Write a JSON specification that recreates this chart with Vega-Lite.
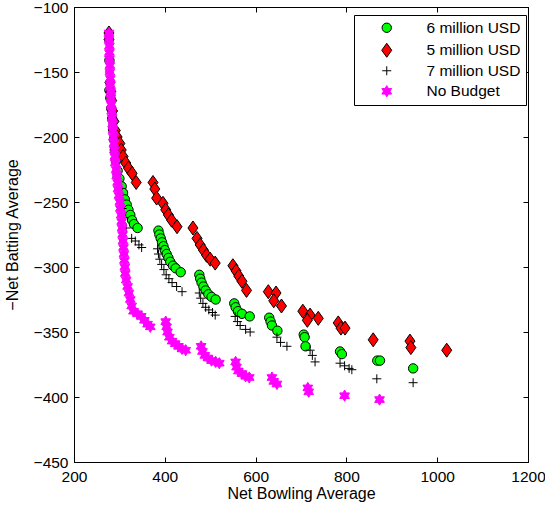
{
  "$schema": "https://vega.github.io/schema/vega-lite/v6.json",
  "width": 454,
  "height": 455,
  "autosize": {"type": "none"},
  "padding": {"left": 74, "top": 7, "right": 17, "bottom": 44},
  "background": "white",
  "config": {
    "view": {"stroke": "black", "strokeWidth": 1},
    "font": "Liberation Sans",
    "axis": {"grid": false, "domainColor": "black", "tickColor": "black", "labelColor": "black", "titleColor": "black", "labelFont": "Liberation Sans", "titleFont": "Liberation Sans", "labelFontSize": 15.5, "titleFontSize": 16, "titleFontWeight": "normal", "tickSize": -5, "labelFlush": false, "labelOverlap": false}
  },
  "data": {"values": [
    {"s":"6 million USD","x":278,"y":-141},{"s":"6 million USD","x":278,"y":-164},{"s":"6 million USD","x":280,"y":-170},{"s":"6 million USD","x":282,"y":-178},{"s":"6 million USD","x":284,"y":-186},{"s":"6 million USD","x":286,"y":-194},{"s":"6 million USD","x":288,"y":-202},{"s":"6 million USD","x":290,"y":-210},{"s":"6 million USD","x":293,"y":-218},{"s":"6 million USD","x":296,"y":-226},{"s":"6 million USD","x":300,"y":-232},{"s":"6 million USD","x":305,"y":-238},{"s":"6 million USD","x":308,"y":-243},{"s":"6 million USD","x":312,"y":-248},{"s":"6 million USD","x":316,"y":-252},{"s":"6 million USD","x":320,"y":-256},{"s":"6 million USD","x":324,"y":-260},{"s":"6 million USD","x":328,"y":-264},{"s":"6 million USD","x":332,"y":-267},{"s":"6 million USD","x":340,"y":-270},
    {"s":"6 million USD","x":386,"y":-272},{"s":"6 million USD","x":388,"y":-275},{"s":"6 million USD","x":391,"y":-278},{"s":"6 million USD","x":394,"y":-281},{"s":"6 million USD","x":397,"y":-284},{"s":"6 million USD","x":400,"y":-287},{"s":"6 million USD","x":404,"y":-290},{"s":"6 million USD","x":408,"y":-293},{"s":"6 million USD","x":412,"y":-296},{"s":"6 million USD","x":418,"y":-299},{"s":"6 million USD","x":424,"y":-301},{"s":"6 million USD","x":435,"y":-304},
    {"s":"6 million USD","x":476,"y":-306},{"s":"6 million USD","x":478,"y":-309},{"s":"6 million USD","x":481,"y":-312},{"s":"6 million USD","x":485,"y":-315},{"s":"6 million USD","x":490,"y":-318},{"s":"6 million USD","x":496,"y":-321},{"s":"6 million USD","x":503,"y":-323},{"s":"6 million USD","x":512,"y":-325},
    {"s":"6 million USD","x":553,"y":-328},{"s":"6 million USD","x":556,"y":-331},{"s":"6 million USD","x":561,"y":-334},{"s":"6 million USD","x":570,"y":-336},{"s":"6 million USD","x":587,"y":-338},
    {"s":"6 million USD","x":630,"y":-339},{"s":"6 million USD","x":633,"y":-342},{"s":"6 million USD","x":636,"y":-345},{"s":"6 million USD","x":648,"y":-349},
    {"s":"6 million USD","x":706,"y":-352},{"s":"6 million USD","x":708,"y":-354},{"s":"6 million USD","x":710,"y":-361},
    {"s":"6 million USD","x":786,"y":-365},{"s":"6 million USD","x":790,"y":-367},
    {"s":"6 million USD","x":868,"y":-372},{"s":"6 million USD","x":874,"y":-372},
    {"s":"6 million USD","x":947,"y":-378},
    {"s":"5 million USD","x":277,"y":-120},{"s":"5 million USD","x":277,"y":-125},{"s":"5 million USD","x":279,"y":-158},{"s":"5 million USD","x":281,"y":-165},{"s":"5 million USD","x":283,"y":-172},{"s":"5 million USD","x":285,"y":-180},{"s":"5 million USD","x":288,"y":-188},{"s":"5 million USD","x":291,"y":-195},{"s":"5 million USD","x":295,"y":-200},{"s":"5 million USD","x":301,"y":-205},{"s":"5 million USD","x":304,"y":-210},{"s":"5 million USD","x":308,"y":-215},{"s":"5 million USD","x":314,"y":-220},{"s":"5 million USD","x":320,"y":-224},{"s":"5 million USD","x":328,"y":-228},{"s":"5 million USD","x":337,"y":-235},
    {"s":"5 million USD","x":374,"y":-235},{"s":"5 million USD","x":378,"y":-240},{"s":"5 million USD","x":382,"y":-247},{"s":"5 million USD","x":396,"y":-251},{"s":"5 million USD","x":402,"y":-256},{"s":"5 million USD","x":408,"y":-260},{"s":"5 million USD","x":415,"y":-264},{"s":"5 million USD","x":427,"y":-269},
    {"s":"5 million USD","x":462,"y":-270},{"s":"5 million USD","x":471,"y":-278},{"s":"5 million USD","x":478,"y":-283},{"s":"5 million USD","x":485,"y":-287},{"s":"5 million USD","x":492,"y":-291},{"s":"5 million USD","x":500,"y":-294},{"s":"5 million USD","x":511,"y":-297},
    {"s":"5 million USD","x":550,"y":-299},{"s":"5 million USD","x":557,"y":-303},{"s":"5 million USD","x":563,"y":-307},{"s":"5 million USD","x":570,"y":-311},{"s":"5 million USD","x":580,"y":-318},
    {"s":"5 million USD","x":628,"y":-319},{"s":"5 million USD","x":645,"y":-320},{"s":"5 million USD","x":640,"y":-326},{"s":"5 million USD","x":657,"y":-330},
    {"s":"5 million USD","x":704,"y":-334},{"s":"5 million USD","x":720,"y":-337},{"s":"5 million USD","x":714,"y":-341},{"s":"5 million USD","x":738,"y":-339.5},
    {"s":"5 million USD","x":782,"y":-343},{"s":"5 million USD","x":788,"y":-347},{"s":"5 million USD","x":797,"y":-347},
    {"s":"5 million USD","x":859,"y":-356},{"s":"5 million USD","x":940,"y":-357},{"s":"5 million USD","x":942,"y":-362},{"s":"5 million USD","x":1021,"y":-364},
    {"s":"7 million USD","x":278,"y":-150},{"s":"7 million USD","x":279,"y":-160},{"s":"7 million USD","x":281,"y":-170},{"s":"7 million USD","x":283,"y":-180},{"s":"7 million USD","x":285,"y":-190},{"s":"7 million USD","x":287,"y":-200},{"s":"7 million USD","x":289,"y":-210},{"s":"7 million USD","x":291,"y":-220},{"s":"7 million USD","x":294,"y":-230},{"s":"7 million USD","x":298,"y":-240},{"s":"7 million USD","x":302,"y":-248},{"s":"7 million USD","x":306,"y":-255},{"s":"7 million USD","x":310,"y":-262},{"s":"7 million USD","x":315,"y":-270},{"s":"7 million USD","x":327,"y":-278},{"s":"7 million USD","x":335,"y":-280},{"s":"7 million USD","x":343,"y":-283},{"s":"7 million USD","x":349,"y":-285},
    {"s":"7 million USD","x":384,"y":-286},{"s":"7 million USD","x":386,"y":-290},{"s":"7 million USD","x":389,"y":-294},{"s":"7 million USD","x":393,"y":-298},{"s":"7 million USD","x":398,"y":-302},{"s":"7 million USD","x":403,"y":-306},{"s":"7 million USD","x":409,"y":-309},{"s":"7 million USD","x":416,"y":-312},{"s":"7 million USD","x":426,"y":-315},{"s":"7 million USD","x":438,"y":-319},
    {"s":"7 million USD","x":476,"y":-320},{"s":"7 million USD","x":479,"y":-324},{"s":"7 million USD","x":484,"y":-328},{"s":"7 million USD","x":490,"y":-331},{"s":"7 million USD","x":497,"y":-333},{"s":"7 million USD","x":505,"y":-335},{"s":"7 million USD","x":511,"y":-337},
    {"s":"7 million USD","x":555,"y":-338},{"s":"7 million USD","x":560,"y":-342},{"s":"7 million USD","x":566,"y":-345},{"s":"7 million USD","x":578,"y":-348},{"s":"7 million USD","x":588,"y":-350},
    {"s":"7 million USD","x":647,"y":-354},{"s":"7 million USD","x":655,"y":-358},{"s":"7 million USD","x":669,"y":-361},
    {"s":"7 million USD","x":720,"y":-364},{"s":"7 million USD","x":725,"y":-368},{"s":"7 million USD","x":731,"y":-373},
    {"s":"7 million USD","x":786,"y":-374},{"s":"7 million USD","x":796,"y":-376},{"s":"7 million USD","x":806,"y":-378},{"s":"7 million USD","x":812,"y":-379},
    {"s":"7 million USD","x":867,"y":-386},{"s":"7 million USD","x":947,"y":-389},
    {"s":"No Budget","x":277,"y":-120},{"s":"No Budget","x":277,"y":-125},{"s":"No Budget","x":278,"y":-130},{"s":"No Budget","x":278,"y":-135},{"s":"No Budget","x":278,"y":-140},{"s":"No Budget","x":279,"y":-145},{"s":"No Budget","x":279,"y":-150},{"s":"No Budget","x":280,"y":-155},{"s":"No Budget","x":280,"y":-160},{"s":"No Budget","x":281,"y":-165},{"s":"No Budget","x":281,"y":-170},{"s":"No Budget","x":282,"y":-175},{"s":"No Budget","x":283,"y":-180},{"s":"No Budget","x":284,"y":-185},{"s":"No Budget","x":285,"y":-190},{"s":"No Budget","x":286,"y":-195},{"s":"No Budget","x":287,"y":-200},{"s":"No Budget","x":288,"y":-205},{"s":"No Budget","x":289,"y":-210},{"s":"No Budget","x":290,"y":-215},{"s":"No Budget","x":291,"y":-220},{"s":"No Budget","x":293,"y":-225},{"s":"No Budget","x":294,"y":-230},{"s":"No Budget","x":296,"y":-235},{"s":"No Budget","x":297,"y":-240},{"s":"No Budget","x":299,"y":-245},{"s":"No Budget","x":301,"y":-250},{"s":"No Budget","x":302,"y":-255},{"s":"No Budget","x":304,"y":-260},{"s":"No Budget","x":305,"y":-265},{"s":"No Budget","x":306,"y":-270},{"s":"No Budget","x":307,"y":-275},{"s":"No Budget","x":308,"y":-280},{"s":"No Budget","x":309,"y":-285},{"s":"No Budget","x":310,"y":-290},{"s":"No Budget","x":311,"y":-295},{"s":"No Budget","x":312,"y":-300},{"s":"No Budget","x":313,"y":-305},{"s":"No Budget","x":315,"y":-310},{"s":"No Budget","x":318,"y":-315},{"s":"No Budget","x":321,"y":-320},{"s":"No Budget","x":324,"y":-325},{"s":"No Budget","x":327,"y":-330},{"s":"No Budget","x":331,"y":-334},{"s":"No Budget","x":340,"y":-336},{"s":"No Budget","x":348,"y":-338},{"s":"No Budget","x":355,"y":-341},{"s":"No Budget","x":362,"y":-344},{"s":"No Budget","x":368,"y":-346},
    {"s":"No Budget","x":402,"y":-342},{"s":"No Budget","x":404,"y":-346},{"s":"No Budget","x":406,"y":-350},{"s":"No Budget","x":410,"y":-354},{"s":"No Budget","x":416,"y":-357},{"s":"No Budget","x":423,"y":-359},{"s":"No Budget","x":430,"y":-361},{"s":"No Budget","x":438,"y":-363},{"s":"No Budget","x":446,"y":-364},
    {"s":"No Budget","x":480,"y":-361},{"s":"No Budget","x":483,"y":-365},{"s":"No Budget","x":488,"y":-368},{"s":"No Budget","x":495,"y":-370},{"s":"No Budget","x":503,"y":-372},{"s":"No Budget","x":512,"y":-373},{"s":"No Budget","x":520,"y":-374},
    {"s":"No Budget","x":556,"y":-373},{"s":"No Budget","x":558,"y":-377},{"s":"No Budget","x":562,"y":-380},{"s":"No Budget","x":570,"y":-382},{"s":"No Budget","x":578,"y":-384},{"s":"No Budget","x":586,"y":-385},
    {"s":"No Budget","x":636,"y":-385},{"s":"No Budget","x":640,"y":-388},{"s":"No Budget","x":647,"y":-390},
    {"s":"No Budget","x":715,"y":-393},{"s":"No Budget","x":717,"y":-396},
    {"s":"No Budget","x":796,"y":-399},{"s":"No Budget","x":873,"y":-402}
  ]},
  "layer": [
    {
      "mark": {"type": "point", "opacity": 1, "strokeWidth": 1, "size": 4},
      "encoding": {
        "x": {"field": "x", "type": "quantitative", "scale": {"domain": [200, 1200], "nice": false, "zero": false},
              "axis": {"values": [200, 400, 600, 800, 1000, 1200], "format": "d", "title": "Net Bowling Average", "titleY": 31, "titleBaseline": "middle", "labelPadding": 12}},
        "y": {"field": "y", "type": "quantitative", "scale": {"domain": [-450, -100], "nice": false, "zero": false},
              "axis": {"values": [-450, -400, -350, -300, -250, -200, -150, -100], "title": "−Net Batting Average", "titleX": -62, "titleY": 227.5, "titleBaseline": "middle", "titleAlign": "center", "titleAngle": -90, "labelPadding": 11}},
        "shape": {"field": "s", "type": "nominal", "scale": {"domain": ["6 million USD", "5 million USD", "7 million USD", "No Budget"], "range": ["M-4.7,0A4.7,4.7 0 1,0 4.7,0A4.7,4.7 0 1,0 -4.7,0Z", "M0,-7L5,0L0,7L-5,0Z", "M-4.5,0L4.5,0M0,-4.5L0,4.5", "M0,-5.6L1.62,-2.8L4.85,-2.8L3.23,0L4.85,2.8L1.62,2.8L0,5.6L-1.62,2.8L-4.85,2.8L-3.23,0L-4.85,-2.8L-1.62,-2.8Z"]},
                  "legend": {"title": null, "orient": "none", "legendX": 280, "legendY": 8, "strokeColor": "black", "fillColor": "white", "padding": 5, "symbolSize": 4, "symbolStrokeWidth": 1, "symbolOffset": 20, "labelOffset": 32, "labelFontSize": 15.5, "labelFont": "Liberation Sans", "labelColor": "black", "rowPadding": 3.5, "cornerRadius": 0}},
        "fill": {"field": "s", "type": "nominal", "scale": {"domain": ["6 million USD", "5 million USD", "7 million USD", "No Budget"], "range": ["#00ff00", "#ff0000", "transparent", "#ff00ff"]}, "legend": {"title": null}},
        "stroke": {"field": "s", "type": "nominal", "scale": {"domain": ["6 million USD", "5 million USD", "7 million USD", "No Budget"], "range": ["#000000", "#000000", "#000000", "#ff00ff"]}, "legend": {"title": null}}
      }
    },
    {
      "mark": {"type": "point", "opacity": 0},
      "encoding": {
        "x": {"field": "x", "type": "quantitative", "axis": {"orient": "top", "values": [200, 400, 600, 800, 1000, 1200], "labels": false, "title": null}},
        "y": {"field": "y", "type": "quantitative", "axis": {"orient": "right", "values": [-450, -400, -350, -300, -250, -200, -150, -100], "labels": false, "title": null}}
      }
    }
  ],
  "resolve": {"axis": {"x": "independent", "y": "independent"}}
}
